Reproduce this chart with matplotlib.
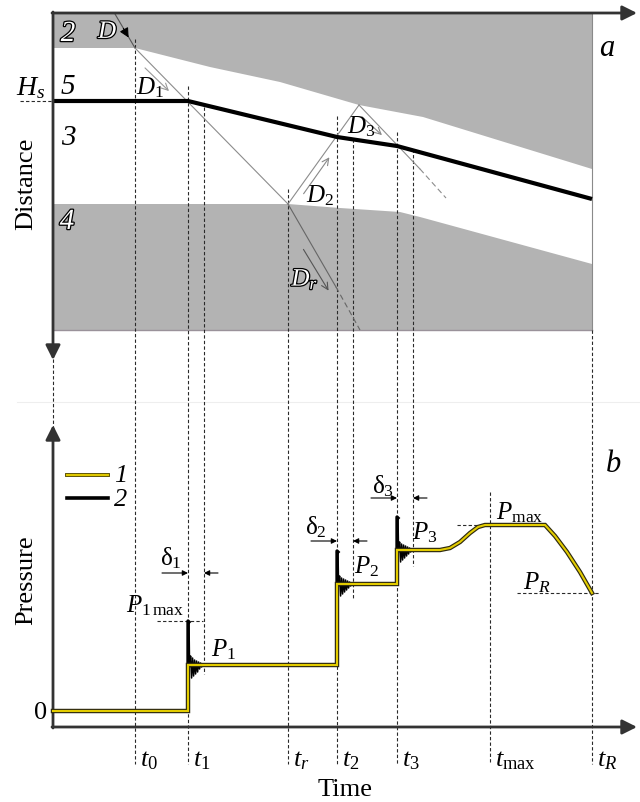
import matplotlib
matplotlib.use("Agg")
import matplotlib.pyplot as plt
import matplotlib.patheffects as pe
from matplotlib.patches import Polygon

plt.rcParams['font.family'] = ['Liberation Serif', 'DejaVu Serif']
plt.rcParams['mathtext.fontset'] = 'custom'
plt.rcParams['mathtext.rm'] = 'Liberation Serif'
plt.rcParams['mathtext.it'] = 'Liberation Serif:italic'
plt.rcParams['mathtext.bf'] = 'Liberation Serif:bold'

# ---------------- data (schematic chart units) ----------------
time_labels = [r'$t_0$', r'$t_1$', r'$t_r$', r'$t_2$', r'$t_3$', r'$t_{\mathrm{max}}$', r'$t_R$']
time_marks = [135, 188, 288, 337, 397, 490, 592]
time_line_top = [40, 87, 190, 117, 133, 493, 331]

delta_ends = [204, 353, 413]
delta_end_top = [108, 140, 150]
delta_end_bottom = [675, 600, 567]

# distance panel (a)
upper_layer_t = [53, 135, 210, 280, 359, 423, 592]
upper_layer_d = [49, 49, 68, 83, 106, 118, 170]
interface_t = [53, 188, 337, 397, 592]
interface_d = [102, 102, 138, 147, 200]
lower_layer_t = [53, 288, 340, 400, 420, 592]
lower_layer_d = [205, 205, 209, 213, 218, 265]
lower_layer_bottom = 331

# wave paths
wave_D_t = [115, 135]
wave_D_d = [15, 49]
wave_D1_t = [135, 288]
wave_D1_d = [49, 205]
wave_Dr_t = [288, 336]
wave_Dr_d = [205, 288]
wave_Dr_dash_t = [336, 360]
wave_Dr_dash_d = [288, 331]
wave_D2_t = [288, 359]
wave_D2_d = [205, 106]
wave_D3_t = [359, 420]
wave_D3_d = [106, 170]
wave_D3_dash_t = [420, 446]
wave_D3_dash_d = [170, 199]

# pressure panel (b): curve 1 (ideal) and oscillations of curve 2
pressure_t = [53, 188, 188, 337, 337, 397, 397, 440, 450, 460, 470, 478, 485,
              545, 555, 567, 580, 592]
pressure_p = [712, 712, 666, 666, 585, 585, 551, 551, 549, 543, 534, 528, 526,
              526, 537, 553, 573, 594]
osc1_t = [188, 188, 189, 189.6, 190.6, 191.6, 192.6, 193.6, 194.6, 195.6, 196.6, 197.6, 198.6, 199.6, 200.6, 201.6, 202.6]
osc1_p = [712, 622, 623, 668, 657, 679, 659, 677, 661, 675, 662, 673, 663, 670, 664, 668, 666]
osc2_t = [337, 337, 338, 338.6, 339.6, 340.6, 341.6, 342.6, 343.6, 344.6, 345.6, 346.6, 347.6, 348.6, 349.6, 350.6, 351.6]
osc2_p = [666, 552, 553, 587, 577, 597, 579, 595, 580, 593, 581, 591, 582, 589, 583, 587, 585]
osc3_t = [397, 397, 398, 398.6, 399.6, 400.6, 401.6, 402.6, 403.6, 404.6, 405.6, 406.6, 407.6, 408.6, 409.6, 410.6, 411.6]
osc3_p = [585, 518, 519, 553, 543, 563, 545, 561, 546, 559, 547, 557, 548, 555, 549, 553, 551]

# ---------------- figure ----------------
fig = plt.figure(figsize=(6.4, 8.03), dpi=100)
ax = fig.add_axes([0, 0, 1, 1])
ax.set_xlim(0, 640)
ax.set_ylim(803, 0)
ax.axis('off')

GRAY = '#b3b3b3'
AX = '#333333'
WAVE = '#8c8c8c'

# gray layers
upper_poly = [(53, 14), (592, 14)] + list(zip(upper_layer_t[::-1], upper_layer_d[::-1]))
ax.add_patch(Polygon(upper_poly, closed=True, facecolor=GRAY, edgecolor='none', zorder=1))
lower_poly = list(zip(lower_layer_t, lower_layer_d)) + [(592, lower_layer_bottom), (53, lower_layer_bottom)]
ax.add_patch(Polygon(lower_poly, closed=True, facecolor=GRAY, edgecolor='none', zorder=1))
ax.plot([53, 592], [lower_layer_bottom, lower_layer_bottom], color='#9a929a', lw=1.0, zorder=2)
ax.plot([592, 592], [14, lower_layer_bottom], color='#8a8a8a', lw=0.8, zorder=2)

# faint separator between panels
ax.plot([17, 640], [403, 403], color='#eeeeee', lw=0.8, zorder=0)

# dashed time lines
dash_kw = dict(color='#2a2a2a', lw=0.8, linestyle=(0, (3, 2)), zorder=3)
for x, top in zip(time_marks, time_line_top):
    ax.plot([x, x], [top, 765], **dash_kw)
for x, top, bot in zip(delta_ends, delta_end_top, delta_end_bottom):
    ax.plot([x, x], [top, bot], **dash_kw)
ax.plot([53, 53], [360, 430], **dash_kw)
ax.plot([20, 53], [102, 102], **dash_kw)

# waves
ax.plot(wave_D_t, wave_D_d, color='#555555', lw=0.8, zorder=4)
ax.annotate('', xy=(130, 41), xytext=(122, 27),
            arrowprops=dict(arrowstyle='-|>', color='black', lw=0.8, mutation_scale=14), zorder=5)
ax.plot(wave_D1_t, wave_D1_d, color=WAVE, lw=0.8, zorder=4)
ax.plot(wave_Dr_t, wave_Dr_d, color='#666666', lw=0.8, zorder=4)
ax.plot(wave_Dr_dash_t, wave_Dr_dash_d, color='#666666', lw=0.8, linestyle=(0, (5, 3)), zorder=4)
ax.plot(wave_D2_t, wave_D2_d, color=WAVE, lw=0.8, zorder=4)
ax.plot(wave_D3_t, wave_D3_d, color=WAVE, lw=0.8, zorder=4)
ax.plot(wave_D3_dash_t, wave_D3_dash_d, color=WAVE, lw=0.8, linestyle=(0, (5, 3)), zorder=4)

# small direction arrows
arrow_kw = dict(arrowstyle='->', color='#777777', lw=0.8, mutation_scale=12)
for (x0, y0), (x1, y1), c in [((143, 67), (171, 94), '#999999'),
                               ((302, 197), (331, 156), '#888888'),
                               ((360, 116), (384, 138), '#888888'),
                               ((302, 248), (330, 294), '#555555')]:
    kw = dict(arrow_kw)
    kw['color'] = c
    ax.annotate('', xy=(x1, y1), xytext=(x0, y0), arrowprops=kw, zorder=5)

# interface (thick)
ax.plot(interface_t, interface_d, color='black', lw=3.0, zorder=6, solid_capstyle='butt')

# axes with arrows
axis_arrow = dict(arrowstyle='-|>', color=AX, lw=2.0, mutation_scale=22, shrinkA=0, shrinkB=0)
ax.annotate('', xy=(637, 14), xytext=(52, 14), arrowprops=axis_arrow, zorder=7)
ax.annotate('', xy=(53, 361), xytext=(53, 13), arrowprops=axis_arrow, zorder=7)
ax.annotate('', xy=(53, 426), xytext=(53, 729), arrowprops=axis_arrow, zorder=7)
ax.annotate('', xy=(637, 728), xytext=(52, 728), arrowprops=axis_arrow, zorder=7)

# pressure curves
for ot, op in [(osc1_t, osc1_p), (osc2_t, osc2_p), (osc3_t, osc3_p)]:
    ax.plot(ot, op, color='black', lw=1.1, zorder=6, solid_joinstyle='round')
    ax.plot(ot[:3], op[:3], color='black', lw=2.4, zorder=6)
ax.plot(pressure_t, pressure_p, color='#2e2a10', lw=3.2, zorder=7, solid_joinstyle='miter')
ax.plot(pressure_t, pressure_p, color='#e3cc00', lw=1.5, zorder=8, solid_joinstyle='miter')

# reference dashed levels
ax.plot([157, 203], [622, 622], **dash_kw)
ax.plot([457, 485], [526, 526], **dash_kw)
ax.plot([517, 600], [594, 594], **dash_kw)

# delta arrows
dk = dict(arrowstyle='-|>', color='black', lw=0.8, mutation_scale=8, shrinkA=0, shrinkB=0)
for (xl, xr), y in [((188, 204), 574), ((337, 353), 542), ((397, 413), 499)]:
    ax.annotate('', xy=(xl, y), xytext=(xl - 26, y), arrowprops=dk, zorder=5)
    ax.annotate('', xy=(xr, y), xytext=(xr + 14, y), arrowprops=dk, zorder=5)

# legend
ax.plot([67, 108], [499, 499], color='black', lw=2.6)
ax.plot([67, 108], [476, 476], color='#5a5000', lw=2.8)
ax.plot([67, 108], [476, 476], color='#e3cc00', lw=1.4)
ax.text(114, 476, '1', fontsize=19, style='italic', va='center', ha='left')
ax.text(114, 500, '2', fontsize=19, style='italic', va='center', ha='left')

# texts
outline = [pe.withStroke(linewidth=1.8, foreground='black')]
ax.text(68, 35, '2', fontsize=21, style='italic', color='white', ha='center', va='center',
        path_effects=outline, zorder=9)
ax.text(108, 33, '$D$', fontsize=18, color='white', ha='center', va='center',
        path_effects=outline, zorder=9)
ax.text(68, 87, '5', fontsize=21, style='italic', ha='center', va='center', zorder=9)
ax.text(68, 138, '3', fontsize=21, style='italic', ha='center', va='center', zorder=9)
ax.text(67, 223, '4', fontsize=21, style='italic', color='white', ha='center', va='center',
        path_effects=outline, zorder=9)
ax.text(31, 88, '$H_s$', fontsize=20, ha='center', va='center')
ax.text(150, 88, '$D_1$', fontsize=18, ha='center', va='center', zorder=9)
ax.text(320, 196, '$D_2$', fontsize=18, ha='center', va='center', zorder=9)
ax.text(361, 127, '$D_3$', fontsize=18, ha='center', va='center', zorder=9)
ax.text(305, 280, '$D_r$', fontsize=18, color='white', ha='center', va='center',
        path_effects=outline, zorder=9)
ax.text(607, 48, '$a$', fontsize=22, ha='center', va='center')
ax.text(613, 465, '$b$', fontsize=22, ha='center', va='center')
ax.text(26, 184, 'Distance', fontsize=19, rotation=90, ha='center', va='center')
ax.text(26, 580, 'Pressure', fontsize=19, rotation=90, ha='center', va='center')
ax.text(345, 790, 'Time', fontsize=19, ha='center', va='center')
ax.text(47, 713, '0', fontsize=19, ha='right', va='center')

for x, lab in zip(time_marks, time_labels):
    ax.text(x + 5, 761, lab, fontsize=19, ha='left', va='center')

ax.text(184, 606, r'$P_{1\,\mathrm{max}}$', fontsize=18, ha='right', va='center')
ax.text(224, 650, '$P_1$', fontsize=18, ha='center', va='center')
ax.text(367, 567, '$P_2$', fontsize=18, ha='center', va='center')
ax.text(425, 533, '$P_3$', fontsize=18, ha='center', va='center')
ax.text(520, 513, r'$P_{\mathrm{max}}$', fontsize=18, ha='center', va='center')
ax.text(537, 583, '$P_R$', fontsize=18, ha='center', va='center')
ax.text(171, 558, r'$\mathrm{\delta}_1$', fontsize=18, ha='center', va='center')
ax.text(316, 527, r'$\mathrm{\delta}_2$', fontsize=18, ha='center', va='center')
ax.text(383, 486, r'$\mathrm{\delta}_3$', fontsize=18, ha='center', va='center')

fig.savefig('out.png', dpi=100)
